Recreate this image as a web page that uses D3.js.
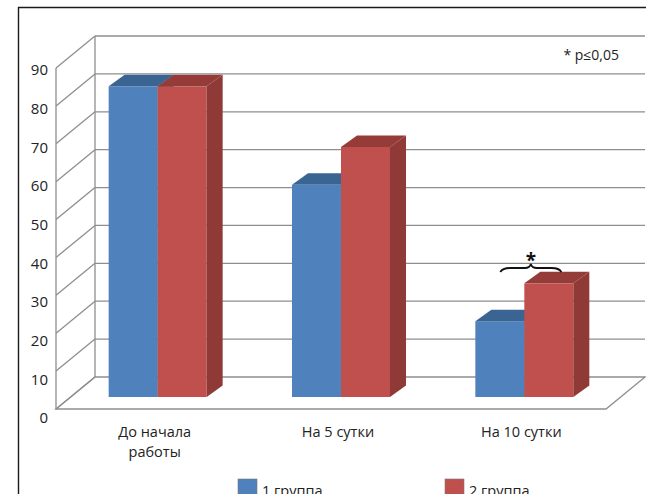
<!DOCTYPE html>
<html>
<head>
<meta charset="utf-8">
<script src="https://cdn.jsdelivr.net/npm/d3@7"></script>
<style>
  html, body { margin: 0; padding: 0; background: #fff; }
  svg { display: block; font-family: "Open Sans", "Noto Sans", sans-serif; }
</style>
</head>
<body>
<svg id="chart" width="646" height="494"></svg>
<script>
// Chart data
const categories = [["До начала", "работы"], ["На 5 сутки"], ["На 10 сутки"]];
const seriesNames = ["1 группа", "2 группа"];
const group1 = [82, 56, 20];
const group2 = [82, 66, 30];
const yTicks = [0, 10, 20, 30, 40, 50, 60, 70, 80, 90];
const noteText = "* p≤0,05";

const W = 646, H = 494;
const svg = d3.select("#chart");

const colors = {
  front: ["#4f81bd", "#c0504d"],
  top:   ["#3a6593", "#953c39"],
  side:  ["#385d8a", "#8f3a37"]
};
const gridColor = "#8e8e8e";
const textColor = "#222";

// 3D box geometry: floor front edge, depth offset of the walls
const floorFront = { x0: 56, x1: 606 };
const depth = { dx: 39, dy: -32 };
const barDepth = { dx: 16, dy: -11.5 };

// value scales: front edge of the left wall, and the front plane of the bars
const yFront = d3.scaleLinear().domain([0, 90]).range([409, 68]);
const yBack = v => yFront(v) + depth.dy;
const yBar = d3.scaleLinear().domain([0, 90]).range([397, 56]);
const yLabel = d3.scaleLinear().domain([0, 90]).range([418, 70]);

// category bands in the bar front plane
const catIdx = categories.map((c, i) => i);
const x0 = d3.scaleBand().domain(catIdx).range([66, 616])
  .paddingInner(0.4655).paddingOuter(0.4655 / 2);
const x1 = d3.scaleBand().domain([0, 1]).range([0, x0.bandwidth()]);

// outer frame
svg.append("path")
  .attr("d", `M18.5,${H} L18.5,7.5 L${W},7.5`)
  .attr("fill", "none").attr("stroke", "#1a1a1a").attr("stroke-width", 1.4);

const walls = svg.append("g").attr("stroke", gridColor).attr("stroke-width", 1.3).attr("fill", "none");

// back wall gridlines
walls.selectAll("line.grid").data(yTicks.filter(v => v > 0)).join("line")
  .attr("class", "grid")
  .attr("x1", floorFront.x0 + depth.dx).attr("x2", floorFront.x1 + depth.dx)
  .attr("y1", d => yBack(d)).attr("y2", d => yBack(d));

// left wall: diagonal tick lines
walls.selectAll("line.diag").data(yTicks).join("line")
  .attr("class", "diag")
  .attr("x1", floorFront.x0).attr("y1", d => yFront(d))
  .attr("x2", floorFront.x0 + depth.dx).attr("y2", d => yBack(d));

// left wall verticals
walls.append("line")
  .attr("x1", floorFront.x0).attr("x2", floorFront.x0)
  .attr("y1", yFront(0)).attr("y2", yFront(90));
walls.append("line")
  .attr("x1", floorFront.x0 + depth.dx).attr("x2", floorFront.x0 + depth.dx)
  .attr("y1", yBack(0)).attr("y2", yBack(90));

// floor outline
walls.append("path")
  .attr("d", `M${floorFront.x0},${yFront(0)} L${floorFront.x1},${yFront(0)} ` +
             `L${floorFront.x1 + depth.dx},${yBack(0)} L${floorFront.x0 + depth.dx},${yBack(0)} Z`);

// y tick labels
svg.append("g").selectAll("text").data(yTicks).join("text")
  .attr("x", 48).attr("y", d => yLabel(d))
  .attr("dy", "0.35em")
  .attr("text-anchor", "end")
  .attr("font-size", 15).attr("fill", textColor)
  .text(d => d);

// bars
const seriesValues = [group1, group2];
const barsG = svg.append("g");
catIdx.forEach(ci => {
  [0, 1].forEach(si => {
    const v = seriesValues[si][ci];
    const xl = x0(ci) + x1(si), xr = xl + x1.bandwidth();
    const yt = yBar(v), yb = yBar(0);
    const g = barsG.append("g");
    g.append("rect")
      .attr("x", xl).attr("y", yt).attr("width", xr - xl).attr("height", yb - yt)
      .attr("fill", colors.front[si]);
    g.append("path")
      .attr("d", `M${xl},${yt} L${xr},${yt} L${xr + barDepth.dx},${yt + barDepth.dy} L${xl + barDepth.dx},${yt + barDepth.dy} Z`)
      .attr("fill", colors.top[si]);
    g.append("path")
      .attr("d", `M${xr},${yt} L${xr + barDepth.dx},${yt + barDepth.dy} L${xr + barDepth.dx},${yb + barDepth.dy} L${xr},${yb} Z`)
      .attr("fill", colors.side[si]);
  });
});

// category labels
const catLabels = svg.append("g").attr("font-size", 14.5).attr("fill", textColor).attr("text-anchor", "middle");
catIdx.forEach(ci => {
  const cx = x0(ci) + x0.bandwidth() / 2 - 3;
  const t = catLabels.append("text").attr("x", cx).attr("y", 437);
  categories[ci].forEach((line, li) => {
    t.append("tspan").attr("x", cx).attr("dy", li === 0 ? 0 : 20).text(line);
  });
});

// significance brace over the third category
const bx0 = x0(2) + 25, bx1 = x0(2) + x0.bandwidth() - 12;
const bm = (bx0 + bx1) / 2, by = 268;
svg.append("path")
  .attr("d", `M${bx0},${by + 4} Q${bx0 + 2},${by} ${bx0 + 10},${by} L${bm - 6},${by} ` +
             `Q${bm - 1},${by} ${bm},${by - 4} Q${bm + 1},${by} ${bm + 6},${by} ` +
             `L${bx1 - 10},${by} Q${bx1 - 2},${by} ${bx1},${by + 4}`)
  .attr("fill", "none").attr("stroke", "#111").attr("stroke-width", 1.8);
svg.append("text")
  .attr("x", bm).attr("y", 267).attr("text-anchor", "middle")
  .attr("font-size", 19).attr("font-weight", "bold").attr("fill", "#111").text("*");

// note
svg.append("text")
  .attr("x", 619).attr("y", 60).attr("text-anchor", "end")
  .attr("font-size", 14).attr("fill", textColor).text(noteText);

// legend
const legendX = [238, 445];
const legend = svg.append("g");
seriesNames.forEach((name, i) => {
  legend.append("rect")
    .attr("x", legendX[i]).attr("y", 479).attr("width", 19).attr("height", 16)
    .attr("fill", colors.front[i]).attr("stroke", "#7a7a7a").attr("stroke-width", 0.6);
  legend.append("text")
    .attr("x", legendX[i] + 24).attr("y", 496)
    .attr("font-size", 14.5).attr("fill", textColor).text(name);
});
</script>
</body>
</html>
